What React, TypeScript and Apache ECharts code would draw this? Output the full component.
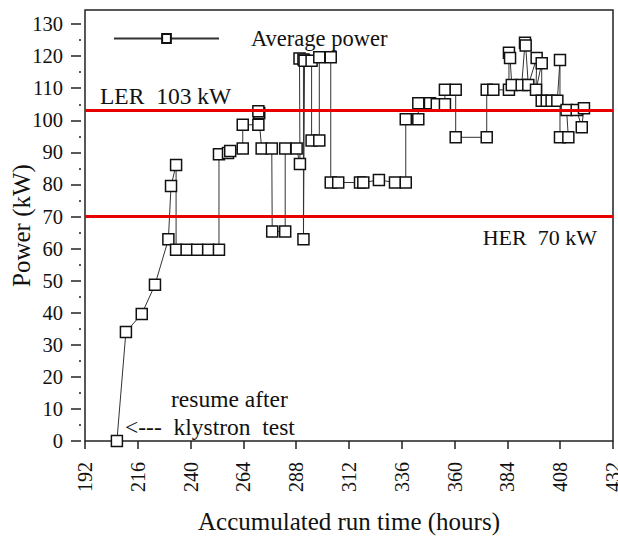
import React, { useEffect, useRef } from "react";
import * as echarts from "echarts";

const seriesName = "Average power";
const hours = [
  206.5, 210.6, 217.8, 223.8, 229.9, 231.1, 233.4, 233.4, 238.2, 243.0, 248.0, 252.9,
  252.9, 257.0, 258.0, 263.7, 263.7, 270.8, 271.2, 270.8, 272.3, 276.9, 277.1, 283.0,
  283.0, 288.2, 289.7, 289.5, 291.3, 291.3, 291.8, 295.0, 295.0, 298.5, 298.5, 303.7,
  303.7, 307.1, 317.0, 318.5, 325.6, 332.9, 337.8, 337.8, 343.5, 343.5, 348.8, 351.9,
  355.6, 355.6, 360.5, 360.5, 374.6, 374.6, 377.6, 384.7, 384.7, 385.2, 386.0, 390.5,
  392.0, 392.3, 393.5, 397.3, 397.0, 399.6, 399.6, 401.9, 404.1, 406.7, 407.9, 407.9,
  411.7, 410.9, 415.5, 417.8, 418.8,
];
const power = [
  0, 34, 39.6, 48.7, 62.9, 79.5, 86.1, 59.6, 59.6, 59.6, 59.6, 59.6,
  89.4, 89.8, 90.4, 91.2, 98.6, 98.6, 102.3, 102.8, 91.2, 91.2, 65.3, 65.3,
  91.2, 91.2, 86.4, 119.3, 119.0, 62.9, 118.6, 118.6, 93.7, 93.7, 119.7, 119.7,
  80.6, 80.6, 80.6, 80.6, 81.4, 80.6, 80.6, 100.3, 100.3, 105.3, 105.3, 105.0,
  105.0, 109.5, 109.5, 94.7, 94.7, 109.5, 109.5, 109.5, 121.1, 119.4, 111.0, 111.0,
  124.2, 123.3, 111.0, 119.4, 109.5, 117.8, 106.1, 106.1, 106.1, 106.1, 118.8, 94.7,
  94.7, 103.2, 103.2, 97.8, 103.8,
];
const xTicks = [192, 216, 240, 264, 288, 312, 336, 360, 384, 408, 432];
const yTicks = [0, 10, 20, 30, 40, 50, 60, 70, 80, 90, 100, 110, 120, 130];
const yMinorTicks = [5, 15, 25, 35, 45, 55, 65, 75, 85, 95, 105, 115, 125];
const refLevels = [103, 70];
const refLabels = ["LER  103 kW", "HER  70 kW"];
const noteLines = ["resume after", "<---  klystron  test"];
const xName = "Accumulated run time (hours)";
const yName = "Power (kW)";

const FONT = "'Liberation Serif', 'Times New Roman', serif";
const INK = "#111";

export default function App() {
  const ref = useRef<HTMLDivElement>(null);
  useEffect(() => {
    if (!ref.current) return;
    const chart = echarts.init(ref.current, undefined, { renderer: "svg" });
    const option: any = {
      animation: false,
      backgroundColor: "#fff",
      textStyle: { fontFamily: FONT, color: INK },
      grid: {
        left: 85,
        right: 5,
        top: 10,
        bottom: 98,
        show: true,
        borderColor: "#222",
        borderWidth: 1.5,
        outerBoundsMode: "none",
      },
      legend: {
        data: [seriesName],
        left: 113,
        top: 27,
        padding: 0,
        itemWidth: 105,
        itemHeight: 11,
        selectedMode: false,
        textStyle: { fontSize: 22.5, fontFamily: FONT, color: INK, padding: [0, 0, 0, 27] },
      },
      xAxis: {
        type: "value",
        min: xTicks[0],
        max: xTicks[xTicks.length - 1],
        interval: 24,
        offset: 6,
        axisLine: { show: false },
        axisTick: { length: 8, lineStyle: { color: "#222", width: 1.5 } },
        axisLabel: {
          rotate: 90,
          margin: 15,
          fontSize: 20,
          lineHeight: 14,
          padding: [0, 0, 6, 0],
          fontFamily: FONT,
          color: INK,
        },
        splitLine: { show: false },
        name: xName,
        nameLocation: "middle",
        nameMoveOverlap: false,
        nameGap: 62,
        nameTextStyle: { fontSize: 25, fontFamily: FONT, color: INK },
      },
      yAxis: [
        {
          type: "value",
          min: 0,
          max: 134.4,
          position: "left",
          offset: 4,
          axisLine: { show: false },
          axisTick: { customValues: yTicks, length: 10, lineStyle: { color: "#222", width: 1.5 } },
          axisLabel: { customValues: yTicks, margin: 18, fontSize: 20.5, fontFamily: FONT, color: INK },
          splitLine: { show: false },
          name: yName,
          nameLocation: "middle",
          nameMoveOverlap: false,
          nameGap: 47,
          nameTextStyle: { fontSize: 25, fontFamily: FONT, color: INK },
        },
        {
          type: "value",
          min: 0,
          max: 134.4,
          position: "left",
          offset: 4,
          axisLine: { show: false },
          axisTick: { customValues: yMinorTicks, length: 2, lineStyle: { color: "#222", width: 1.5 } },
          axisLabel: { show: false },
          splitLine: { show: false },
        },
      ],
      series: [
        {
          type: "line",
          name: seriesName,
          yAxisIndex: 0,
          data: hours.map((h, i) => [h, power[i]]),
          symbol: "rect",
          symbolSize: 11,
          showAllSymbol: true,
          lineStyle: { color: "#333", width: 1 },
          itemStyle: { color: "#fff", borderColor: INK, borderWidth: 1.5 },
          markLine: {
            silent: true,
            symbol: "none",
            z: 5,
            lineStyle: { color: "#e80000", width: 3, type: "solid" },
            data: refLevels.map((v, i) => ({
              yAxis: v,
              label: {
                show: true,
                formatter: refLabels[i],
                position: i === 0 ? "insideStartTop" : "insideEndBottom",
                distance: i === 0 ? [15, 3] : [16, 10],
                fontSize: i === 0 ? 23.5 : 22,
                fontFamily: FONT,
                color: INK,
              },
            })),
          },
        },
      ],
      graphic: [
        {
          type: "text",
          left: 171,
          top: 387,
          style: { text: noteLines[0], fontSize: 23.5, fontFamily: FONT, fill: INK },
        },
        {
          type: "text",
          left: 125,
          top: 415,
          style: { text: noteLines[1], fontSize: 23.5, fontFamily: FONT, fill: INK },
        },
      ],
    };
    chart.setOption(option);
    return () => chart.dispose();
  }, []);
  return (
    <div
      ref={ref}
      style={{ position: "fixed", left: 0, top: 0, width: 618, height: 539, background: "#fff" }}
    />
  );
}
